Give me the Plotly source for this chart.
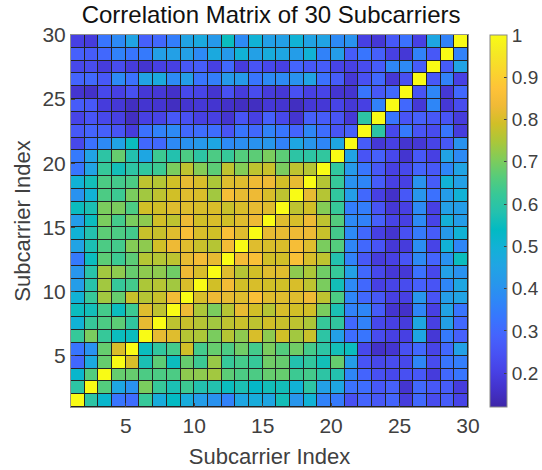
import plotly.graph_objects as go

title_text = "Correlation Matrix of 30 Subcarriers"
x_label = "Subcarrier Index"
y_label = "Subcarrier Index"
subcarrier_edges = list(range(1, 31))
axis_ticks = [5, 10, 15, 20, 25, 30]
bar_ticks = [0.2, 0.3, 0.4, 0.5, 0.6, 0.7, 0.8, 0.9, 1]
bar_labels = ["0.2", "0.3", "0.4", "0.5", "0.6", "0.7", "0.8", "0.9", "1"]

row_01 = [1,.6,.52,.33,.31,.62,.48,.54,.48,.43,.4,.36,.46,.48,.46,.56,.41,.5,.36,.34,.24,.29,.26,.29,.19,.3,.23,.27,.21]
row_02 = [.6,1,.66,.46,.4,.7,.62,.57,.63,.58,.58,.55,.57,.53,.56,.56,.5,.6,.44,.46,.32,.31,.26,.28,.17,.3,.26,.27,.19]
row_03 = [.52,.66,1,.68,.68,.65,.65,.65,.72,.72,.74,.67,.65,.65,.68,.68,.63,.64,.6,.58,.37,.29,.24,.22,.24,.26,.19,.3,.33]
row_04 = [.3,.47,.68,1,.8,.57,.67,.55,.68,.63,.73,.62,.64,.62,.69,.68,.58,.61,.56,.68,.43,.25,.22,.23,.22,.37,.23,.33,.35]
row_05 = [.33,.4,.68,.8,1,.55,.61,.64,.79,.64,.68,.65,.69,.64,.7,.66,.69,.64,.6,.56,.55,.22,.16,.17,.24,.3,.21,.3,.44]
row_06 = [.62,.7,.62,.55,.55,1,.82,.81,.76,.75,.7,.76,.72,.8,.72,.79,.74,.78,.6,.44,.31,.33,.23,.2,.2,.46,.18,.34,.28]
row_07 = [.5,.62,.65,.67,.61,.82,1,.77,.78,.76,.74,.77,.78,.77,.79,.78,.77,.75,.62,.61,.3,.36,.22,.2,.19,.46,.2,.44,.3]
row_08 = [.55,.56,.64,.55,.63,.81,.77,1,.83,.75,.7,.76,.82,.79,.76,.8,.79,.79,.7,.57,.36,.37,.27,.17,.16,.37,.2,.45,.33]
row_09 = [.5,.62,.74,.68,.78,.76,.78,.84,1,.8,.83,.82,.81,.86,.81,.81,.81,.83,.77,.65,.37,.3,.26,.2,.2,.41,.25,.43,.45]
row_10 = [.43,.59,.74,.62,.64,.75,.76,.74,.8,1,.79,.84,.79,.8,.79,.79,.8,.77,.7,.56,.38,.3,.2,.21,.23,.28,.25,.37,.46]
row_11 = [.41,.59,.74,.72,.68,.72,.72,.69,.83,.8,1,.81,.76,.79,.81,.81,.72,.75,.69,.62,.44,.3,.22,.18,.18,.32,.22,.44,.4]
row_12 = [.34,.55,.67,.63,.67,.76,.76,.77,.82,.84,.82,1,.84,.86,.79,.79,.86,.8,.77,.58,.36,.26,.19,.2,.25,.38,.29,.4,.55]
row_13 = [.45,.57,.65,.64,.71,.72,.79,.83,.81,.78,.76,.84,1,.81,.8,.8,.85,.81,.7,.66,.37,.3,.25,.18,.19,.39,.21,.5,.37]
row_14 = [.5,.58,.67,.65,.64,.78,.78,.81,.86,.8,.79,.86,.81,1,.82,.82,.83,.83,.78,.64,.38,.3,.2,.17,.24,.34,.27,.42,.5]
row_15 = [.43,.55,.7,.64,.7,.72,.79,.77,.83,.79,.8,.79,.81,.83,1,.81,.8,.83,.77,.66,.38,.36,.28,.21,.2,.38,.21,.49,.43]
row_16 = [.55,.57,.7,.7,.65,.79,.79,.81,.81,.8,.8,.78,.8,.82,.81,1,.77,.79,.71,.62,.35,.35,.25,.18,.2,.38,.2,.44,.43]
row_17 = [.4,.5,.65,.63,.7,.74,.77,.79,.81,.8,.74,.85,.82,.83,.8,.77,1,.82,.76,.61,.43,.3,.2,.16,.26,.41,.32,.43,.5]
row_18 = [.5,.56,.65,.64,.65,.77,.76,.79,.82,.8,.75,.81,.81,.83,.83,.79,.82,1,.76,.62,.4,.37,.27,.2,.2,.4,.27,.5,.44]
row_19 = [.33,.45,.62,.56,.6,.61,.63,.7,.77,.71,.67,.77,.71,.77,.78,.7,.77,.76,1,.61,.42,.33,.26,.2,.22,.29,.26,.37,.45]
row_20 = [.34,.45,.6,.68,.58,.46,.63,.58,.65,.6,.65,.62,.66,.67,.7,.67,.6,.6,.61,1,.45,.25,.28,.22,.17,.26,.2,.45,.38]
row_21 = [.22,.32,.38,.45,.55,.3,.3,.38,.4,.42,.46,.38,.39,.4,.41,.36,.46,.41,.37,.46,1,.27,.18,.2,.17,.18,.21,.26,.4]
row_22 = [.26,.29,.28,.25,.19,.32,.36,.38,.3,.31,.31,.25,.33,.3,.36,.33,.29,.37,.31,.25,.28,1,.6,.22,.34,.25,.23,.33,.19]
row_23 = [.21,.25,.22,.2,.15,.2,.21,.26,.24,.2,.2,.17,.25,.2,.28,.22,.17,.28,.27,.25,.18,.6,1,.33,.25,.28,.26,.25,.19]
row_24 = [.27,.26,.19,.18,.15,.17,.17,.15,.17,.18,.17,.16,.15,.15,.18,.17,.15,.18,.18,.21,.18,.2,.36,1,.3,.18,.37,.18,.23]
row_25 = [.17,.16,.22,.2,.24,.18,.18,.16,.22,.21,.17,.24,.19,.23,.19,.18,.24,.2,.21,.17,.17,.33,.26,.3,1,.25,.37,.18,.3]
row_26 = [.29,.3,.26,.38,.32,.45,.47,.38,.43,.33,.35,.42,.42,.33,.38,.38,.4,.45,.32,.27,.18,.24,.3,.18,.24,1,.26,.36,.2]
row_27 = [.22,.23,.19,.23,.19,.17,.2,.2,.26,.27,.2,.3,.19,.25,.22,.2,.29,.26,.27,.21,.2,.23,.27,.37,.38,.27,1,.27,.45]
row_28 = [.28,.27,.3,.36,.33,.34,.44,.44,.44,.38,.47,.42,.5,.44,.48,.46,.43,.5,.36,.43,.27,.33,.28,.2,.18,.36,.26,1,.36]
row_29 = [.2,.19,.33,.38,.45,.28,.3,.35,.45,.47,.42,.55,.38,.5,.44,.44,.5,.45,.45,.38,.4,.2,.18,.26,.32,.2,.46,.36,1]

correlation = [row_01, row_02, row_03, row_04, row_05, row_06, row_07, row_08, row_09, row_10,
               row_11, row_12, row_13, row_14, row_15, row_16, row_17, row_18, row_19, row_20,
               row_21, row_22, row_23, row_24, row_25, row_26, row_27, row_28, row_29]

parula_rgb = [
    (0.2422,0.1504,0.6603),(0.2647,0.1978,0.7952),(0.2783,0.2559,0.8991),(0.2810,0.3228,0.9579),
    (0.2699,0.3892,0.9906),(0.2206,0.4603,0.9973),(0.1786,0.5289,0.9682),(0.1540,0.5902,0.9218),
    (0.1248,0.6459,0.8883),(0.0689,0.6948,0.8394),(0.0067,0.7312,0.7660),(0.1408,0.7584,0.6842),
    (0.2161,0.7843,0.5923),(0.3406,0.8008,0.4789),(0.5044,0.7993,0.3480),(0.6720,0.7793,0.2227),
    (0.8203,0.7498,0.1535),(0.9393,0.7288,0.2100),(0.9970,0.7659,0.2199),(0.9786,0.8386,0.1766),
    (0.9597,0.9135,0.1423),(0.9769,0.9839,0.0805),
]
colorscale = [[i / (len(parula_rgb) - 1), "rgb(%d,%d,%d)" % tuple(round(c * 255) for c in rgb)]
              for i, rgb in enumerate(parula_rgb)]

FONT = "Liberation Sans"
INK = "#404040"

fig = go.Figure(go.Heatmap(
    z=correlation, x=subcarrier_edges, y=subcarrier_edges,
    zmin=0.12, zmax=1, colorscale=colorscale, xgap=1, ygap=1,
    colorbar=dict(
        x=1.055, xanchor="left", y=0, yanchor="bottom", len=1, lenmode="fraction",
        thickness=17, thicknessmode="pixels", xpad=0, ypad=0,
        tickvals=bar_ticks, ticktext=bar_labels, ticks="inside", ticklen=3,
        tickcolor="#404040", tickwidth=1, outlinecolor="#888888", outlinewidth=1,
        tickfont=dict(family=FONT, size=19, color=INK),
    ),
))

axis_common = dict(
    range=[1, 30], tickvals=axis_ticks, ticks="inside", ticklen=4, tickcolor="#404040",
    showgrid=False, zeroline=False, showline=True, linecolor="#909090", linewidth=1, mirror=True,
    automargin=False, tickfont=dict(family=FONT, size=21, color=INK),
)
fig.update_xaxes(title=dict(text=x_label, font=dict(family=FONT, size=22, color=INK), standoff=12), **axis_common)
fig.update_yaxes(title=dict(text=y_label, font=dict(family=FONT, size=22, color=INK), standoff=5), **axis_common)

fig.update_layout(
    width=542, height=470, margin=dict(l=71, r=74, t=35, b=63, autoexpand=False),
    paper_bgcolor="white", plot_bgcolor="#222222",
    title=dict(text=title_text, font=dict(family=FONT, size=24, color="#111111"),
               x=0.504, xanchor="center", xref="paper", y=1, yanchor="top", pad=dict(t=6),
               automargin=False),
)
fig.write_html("out.html", config=dict(displayModeBar=False),
               post_script="document.body.style.margin='0';")
